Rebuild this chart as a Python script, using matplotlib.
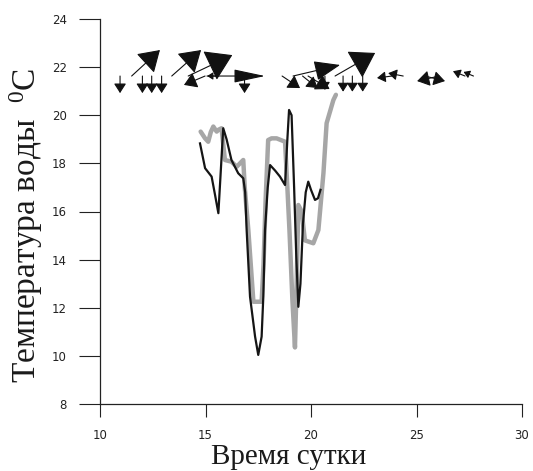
import numpy as np
import matplotlib
matplotlib.use("Agg")
import matplotlib.pyplot as plt

# ---------------- data ----------------
time_black = [14.74, 14.98, 15.29, 15.45, 15.61, 15.84, 16.00, 16.23, 16.55, 16.79,
              16.88, 16.95, 17.11, 17.35, 17.50, 17.66, 17.74, 17.82, 17.95, 18.06,
              18.30, 18.53, 18.77, 18.88, 18.96, 19.08, 19.20, 19.30, 19.40, 19.50,
              19.62, 19.75, 19.87, 20.00, 20.19, 20.33, 20.45]
temp_black = [18.83, 17.80, 17.45, 16.70, 15.93, 19.46, 19.00, 18.14, 17.59, 17.38,
              16.80, 15.23, 12.46, 10.80, 10.04, 10.80, 12.46, 15.23, 17.00, 17.93,
              17.70, 17.45, 17.10, 19.00, 20.22, 20.00, 17.00, 14.20, 12.04, 13.00,
              15.50, 16.80, 17.24, 16.90, 16.48, 16.55, 16.90]

time_gray = [14.77, 14.98, 15.13, 15.25, 15.37, 15.53, 15.62, 15.76, 15.92, 16.23,
             16.48, 16.71, 16.79, 16.86, 17.03, 17.27, 17.45, 17.66, 17.75, 17.85,
             17.97, 18.13, 18.37, 18.77, 18.88, 18.98, 19.12, 19.24, 19.32, 19.40,
             19.56, 19.71, 20.11, 20.35, 20.59, 20.74, 21.06, 21.18]
temp_gray = [19.32, 19.04, 18.90, 19.30, 19.53, 19.32, 19.40, 19.46, 18.14, 18.07,
             17.86, 18.07, 18.14, 17.00, 15.23, 12.25, 12.25, 12.25, 13.80, 16.50,
             18.97, 19.04, 19.04, 18.90, 17.00, 15.20, 12.30, 10.35, 13.00, 16.27,
             16.00, 14.80, 14.68, 15.23, 17.60, 19.67, 20.63, 20.85]

# wind vectors (stick diagram above the curves): start time, x- and y-components
wind_base = 21.63
wind_t = [10.95, 12.01, 12.45, 12.92, 11.50, 13.40, 14.18, 14.98, 15.07, 15.55,
          16.85, 18.63, 19.15, 19.60, 19.86, 20.66, 21.14, 21.52, 21.96, 22.45,
          23.84, 24.37, 26.07, 25.40, 27.30, 27.70]
wind_u = [0.00, 0.00, 0.00, 0.00, 1.34, 1.39, 2.09, -1.00, 2.75, -0.47,
          0.00, 0.85, 2.23, 0.71, 1.02, 0.00, 1.90, 0.00, 0.00, 0.00,
          -0.71, -0.71, -1.04, 0.95, -0.57, -0.47]
wind_v = [-0.71, -0.71, -0.71, -0.71, 1.08, 1.08, 0.87, -0.37, 0.00, 0.00,
          -0.71, -0.50, 0.46, -0.50, -0.54, -0.58, 0.96, -0.65, -0.65, -0.65,
          -0.08, 0.12, -0.21, -0.21, 0.20, 0.17]

x_ticks = [10, 15, 20, 25, 30]
y_ticks = [8, 10, 12, 14, 16, 18, 20, 22, 24]

# ---------------- figure ----------------
plt.rcParams["mathtext.fontset"] = "custom"
plt.rcParams["mathtext.rm"] = "Liberation Serif"
plt.rcParams["mathtext.it"] = "Liberation Serif"

dpi = 100
fig = plt.figure(figsize=(5.33, 4.71), dpi=dpi)
ax = fig.add_axes([100 / 533, (471 - 404) / 471, 422 / 533, 385 / 471])
ax.set_xlim(10, 30)
ax.set_ylim(8, 24)

for s in ("top", "right"):
    ax.spines[s].set_visible(False)
for s in ("left", "bottom"):
    ax.spines[s].set_linewidth(0.9)
    ax.spines[s].set_color("#222222")

ax.set_xticks(x_ticks)
ax.set_yticks(y_ticks)
ax.set_xticklabels([str(v) for v in x_ticks])
ax.set_yticklabels([str(v) for v in y_ticks])
ax.tick_params(axis="y", direction="out", length=15, width=0.8, pad=9,
               labelsize=8.5, colors="#222222")
ax.tick_params(axis="x", direction="out", length=9, width=0.8, pad=9,
               labelsize=8.5, colors="#222222")

# curves
ax.plot(time_gray, temp_gray, color="#a6a6a6", lw=3.2, solid_joinstyle="round",
        solid_capstyle="round", zorder=2)
ax.plot(time_black, temp_black, color="#151515", lw=1.6, solid_joinstyle="round",
        zorder=3)

# wind arrows with heads proportional to their length
wide = {8: 0.10, 12: 0.18}
for i, (t, u, v) in enumerate(zip(wind_t, wind_u, wind_v)):
    p0 = ax.transData.transform((t, wind_base))
    p1 = ax.transData.transform((t + u, wind_base + v))
    L = np.hypot(*(p1 - p0)) * 72 / dpi
    hl = 0.47 * L
    hw = wide.get(i, 0.30) * L
    ax.annotate("", xy=(t + u, wind_base + v), xytext=(t, wind_base),
                arrowprops=dict(arrowstyle=f"-|>,head_length={hl:.2f},head_width={hw:.2f}",
                                mutation_scale=1, lw=0.8, color="#111111",
                                shrinkA=0, shrinkB=0),
                zorder=4)

# labels
ax.set_xlabel("Время сутки", family="Liberation Serif", fontsize=21, color="#1a1a1a",
              va="center")
ax.xaxis.set_label_coords((289 - 100) / 422, (404 - 457) / 385)
ax.set_ylabel("Температура воды  $^0$C", family="Liberation Serif", fontsize=24,
              color="#1a1a1a", va="center")
ax.yaxis.set_label_coords((26 - 100) / 422, (404 - 225) / 385)

fig.savefig("out.png", dpi=dpi, facecolor="white")
